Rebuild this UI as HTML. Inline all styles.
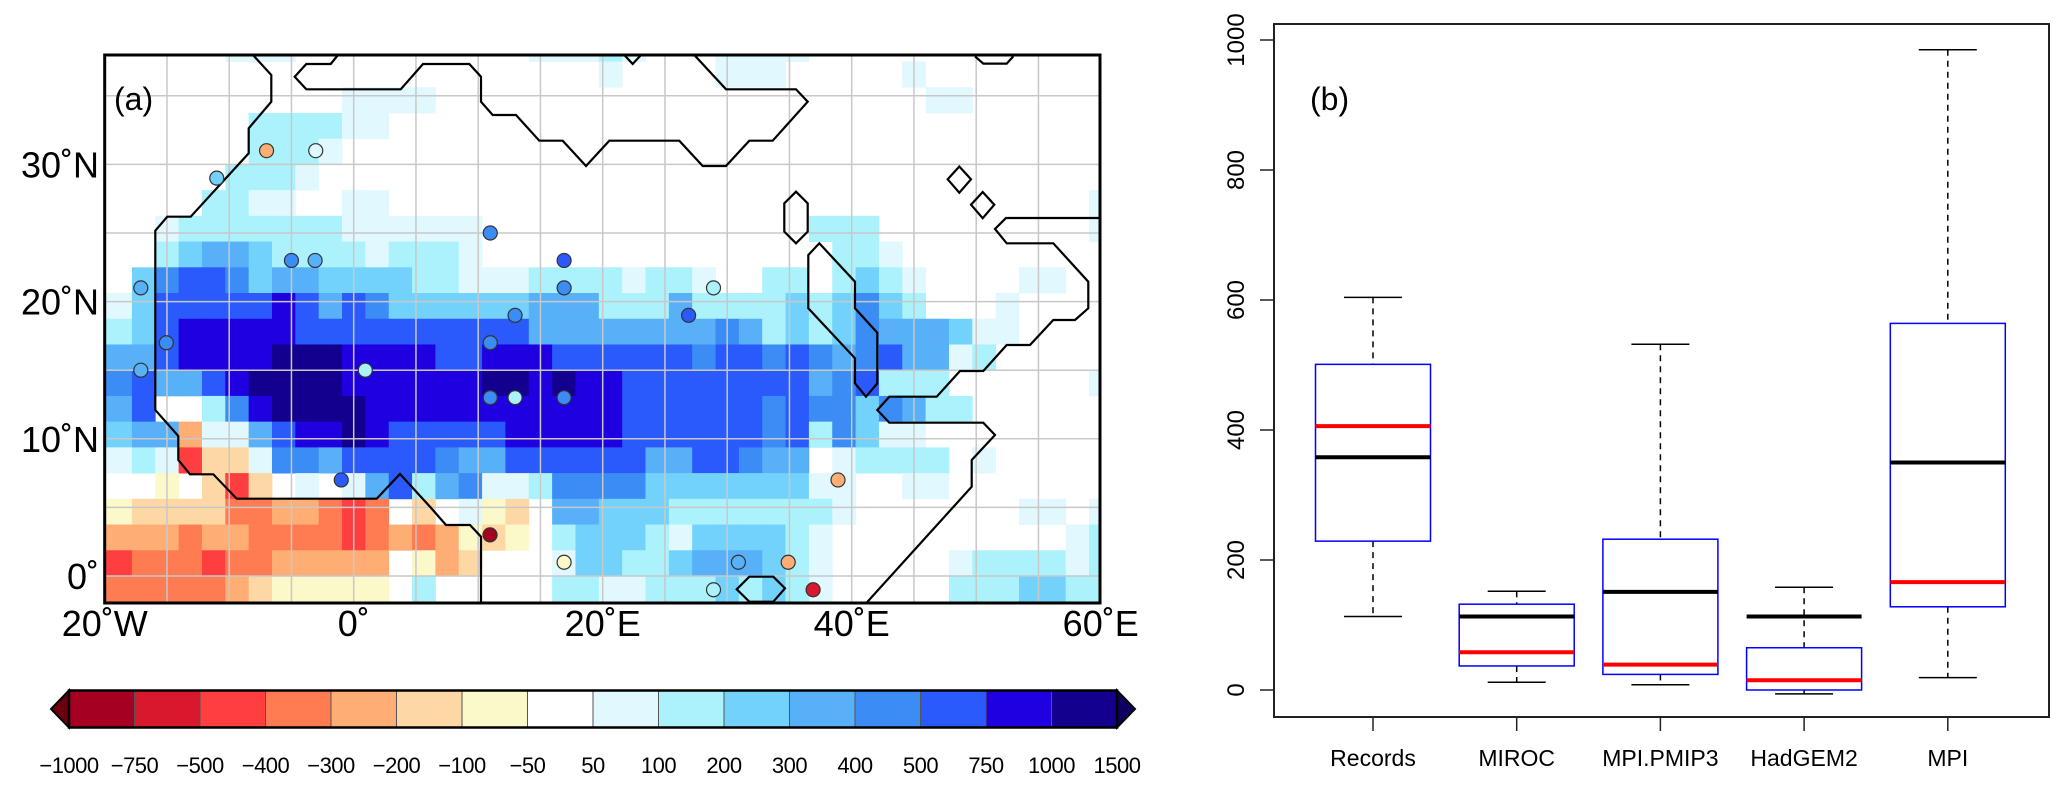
<!DOCTYPE html>
<html><head><meta charset="utf-8"><style>
html,body{margin:0;padding:0;background:#fff;}
svg{display:block;font-family:"Liberation Sans",sans-serif;}
</style></head><body>
<svg id="fig" width="2067" height="785" viewBox="0 0 2067 785" xmlns="http://www.w3.org/2000/svg">
<defs><clipPath id="mapclip"><rect x="104.7" y="55" width="995.3" height="548"/></clipPath></defs>
<g id="map">
  <g id="cells" clip-path="url(#mapclip)"></g>
  <g id="grid" clip-path="url(#mapclip)"></g>
  <g clip-path="url(#mapclip)" fill="none" stroke="#000" stroke-width="2.2" stroke-linejoin="miter">
    <polyline points="253,55 271.3,75 271.3,101.7 248.7,128.3 248.7,153.3 190.7,216.7 167.3,216.7 155.3,230.7 155.3,410 178.3,436 178.3,460 190,474.3 213.3,474.3 236.7,498.7 376.7,498.7 400,474 430,506.7 446,525 470,525 481,536.7 481,610"/>
    <polyline points="338,55 330.7,64 306.3,64 294.7,76.7 306.3,89.3 400.7,89.3 423,64 469.3,64 481,76.7 481,101.7 492.7,115 516,115 539.3,140.7 562.7,140.7 586,166 609.3,140.7 679.3,140.7 702.7,166 726,166 749.3,140.7 772.7,140.7 807.7,101.7 796,89.3 726,89.3 694.3,55"/>
    <polyline points="624.3,55 632.7,64 641,55"/>
    <polyline points="975,56.4 983.3,63.6 1006.7,63.6 1013.3,56.4"/>
    <polygon points="796,191.7 807.7,203.3 807.7,231.7 796,243.3 784.3,231.7 784.3,203.3"/>
    <polygon points="819.3,243.3 855,281.7 855,308.3 877.3,332.7 877.3,383.3 866,396.7 855,383.3 855,358.3 808.3,308.3 808.3,255"/>
    <polygon points="959.3,166.5 971,179.3 959.3,192.7 947.7,179.3"/>
    <polygon points="982.7,192 994.3,204.7 982.7,218.2 971,204.7"/>
    <polyline points="1105,218 1006,218 995,229 1006.7,243.3 1053.3,243.3 1088.3,281.7 1088.3,308.3 1075,320 1053.3,320 1030,345 1006.7,345 983.3,371 960,371 936.7,396.7 889.3,396.7 877.3,410 889.3,422.7 983.3,422.7 995,435 971.7,460 971.7,486.7 860,610"/>
    <polygon points="736.7,589.3 749.3,576.7 773.3,576.7 785,588.3 773.3,601.7 749.3,601.7"/>
  </g>
  <g id="stations"></g>
  <rect x="104.7" y="55" width="995.3" height="548" fill="none" stroke="#000" stroke-width="3"/>
  <text x="114" y="110" font-size="32">(a)</text>
  <g id="maplabels" font-size="36"></g>
</g>
<g id="colorbar"></g>
<g id="box">
  <rect x="1274" y="24" width="775" height="693" fill="none" stroke="#222" stroke-width="2"/>
  <text x="1310" y="110" font-size="32">(b)</text>
  <g id="boxaxes"></g>
  <g id="boxes"></g>
</g>
</svg>
<script>
const levelColors = ['#6b0010','#a50021','#d8182c','#ff3f3f','#ff7c52','#feae74','#fed8a4','#fbf8ca','#ffffff','#e0f8fe','#abf2fc','#72d2fb','#57b0f8','#3b8cf4','#2a5afc','#1f00e0','#13008e','#0d0060'];
const levelCodes = '0123456789abcdefgh';
const colorbarLabels = ['\u22121000','\u2212750','\u2212500','\u2212400','\u2212300','\u2212200','\u2212100','\u221250','50','100','200','300','400','500','750','1000','1500'];
const W = n => '8'.repeat(n);
const rowLatIndex = [20,19,18,17,16,15,14,13,12,11,10,9,8,7,6,5,4,3,2,1,0,-1];
const gridRows = [
'888888'+'999'+W(10)+'999'+'a'+'9'+'888'+'9999'+W(13),
W(22)+'9'+'8888'+'999'+'88888'+'9'+W(8),
W(11)+'9999'+W(21)+'99'+W(6),
W(7)+'aaaa'+'99'+W(31),
W(7)+'aaa'+'9'+W(33),
W(6)+'aaa'+'9'+W(34),
W(5)+'aa'+'99'+'88'+'99'+W(30)+'9',
'888'+'9'+'aaaaaaa'+'999999'+W(14)+'aaa'+W(9)+'9',
'888'+'abccb'+'aaaa'+'9'+'aa'+'a9'+W(13)+'88'+'aa9'+W(9),
'88bdeedbccbbbba'+'a999aaaa9aa988'+'aa8aba9'+'88889988',
'99beeeeefecedbb'+'bbbbcccaaacaaa'+'ababdba'+'88898888',
'aabefffffeeeeee'+'eeeeccccccccdc'+'ababdcc'+'cb998888',
'ccceffffgggffff'+'eefffeeeeeedee'+'dedcdec'+'c9a88888',
'ddeccefggggffff'+'ffggfgffeeeeee'+'eecdeaa'+'a8888889',
'cce88adfggggfff'+'ffffffffeeeeee'+'deddbdc'+'aa888888',
'bbcc599ceffgfee'+'eeefffffeeeeee'+'deadb99'+'88888888',
'99a93669ddceeee'+'dcceeeeeecceed'+'cc89aaa'+'a8988888',
'888786368989cea'+'cd99addddbbbbb'+'bb99889'+'98888888',
'776666445543486'+'89768ccbbbaaaa'+'aaa9888'+'88889989',
'555545544443454'+'57678abbba9bbb'+'ba98888'+'8888889a',
'334443445555587'+'568889bbaabccc'+'ba98888'+'89aaaa9a',
'44444456777778a'+'88888aa99aaaba'+'ba98888'+'8aaabbaa'
];
const stationLon = [-7.0,-3.05,-11.0,-5.0,-3.1,-17.1,-15.05,-17.1,0.93,10.97,16.9,16.9,28.9,12.96,26.9,10.97,10.97,12.96,16.9,-1.0,10.95,16.9,30.9,28.9,38.9,34.9,36.9];
const stationLat = [31.0,31.0,29.0,23.0,23.0,21.0,17.0,15.0,15.0,25.0,23.0,21.0,21.0,19.0,19.0,17.0,13.0,13.0,13.0,7.0,3.0,1.0,1.0,-1.0,7.0,1.0,-1.0];
const stationLevel = ['5','9','b','d','c','c','d','c','a','d','e','d','a','d','e','d','d','a','d','e','1','7','c','a','5','5','2'];
const lonTicks = [-20,0,20,40,60];
const lonTickLabels = ['20\u02daW','0\u02da','20\u02daE','40\u02daE','60\u02daE'];
const latTicks = [0,10,20,30];
const latTickLabels = ['0\u02da','10\u02daN','20\u02daN','30\u02daN'];

const boxCategories = ['Records','MIROC','MPI.PMIP3','HadGEM2','MPI'];
const whiskerLow = [113,12,8,-6,19];
const boxLow = [229,37,24,0,128];
const medianBlack = [358,113,151,113,350];
const meanRed = [406,58,39,15,166];
const boxHigh = [501,132,232,65,564];
const whiskerHigh = [604,152,532,158,985];
const yTicks = [0,200,400,600,800,1000];

const NS='http://www.w3.org/2000/svg';
function mk(tag, attrs, parent){const e=document.createElementNS(NS,tag);for(const k in attrs)e.setAttribute(k,attrs[k]);parent.appendChild(e);return e;}
const lonX = lon => 104.7 + (lon+20)*12.45;
const latY = lat => 576 - lat*13.72;

const cellsG=document.getElementById('cells');
gridRows.forEach((row,ri)=>{
  const j=rowLatIndex[ri];
  for(let c=0;c<44;c++){
    const code=row[c]||'8';
    const lvl=levelCodes.indexOf(code);
    if(lvl===8||lvl<0) continue;
    const lonC=(c-11)*1.875;
    const x0=lonX(lonC-0.9375), x1=lonX(lonC+0.9375);
    const yTop=latY((j+1)*1.875), yBot=(j===-1)?latY(-3.75):latY(j*1.875);
    const r=mk('rect',{x:x0.toFixed(2),y:yTop.toFixed(2),width:(x1-x0+0.4).toFixed(2),height:(yBot-yTop+0.4).toFixed(2),fill:levelColors[lvl]},cellsG);
    
    
  }
});
const gridG=document.getElementById('grid');
for(let lon=-15;lon<=55;lon+=5){const l=mk('line',{x1:lonX(lon),x2:lonX(lon),y1:55,y2:603,stroke:'#c8c8c8','stroke-width':1.5},gridG);

}
for(let lat=0;lat<=35;lat+=5){const l=mk('line',{x1:104.7,x2:1100,y1:latY(lat),y2:latY(lat),stroke:'#c8c8c8','stroke-width':1.5},gridG);

}
const stG=document.getElementById('stations');
stationLon.forEach((lon,i)=>{
  const c=mk('circle',{cx:lonX(lon),cy:latY(stationLat[i]),r:7,fill:levelColors[levelCodes.indexOf(stationLevel[i])],stroke:'#333','stroke-width':1.2},stG);
  
  
});
const mlG=document.getElementById('maplabels');
lonTicks.forEach((lon,i)=>{const t=mk('text',{x:lonX(lon),y:636,'text-anchor':'middle'},mlG);t.textContent=lonTickLabels[i];

});
latTicks.forEach((lat,i)=>{const t=mk('text',{x:99,y:latY(lat)+13,'text-anchor':'end'},mlG);t.textContent=latTickLabels[i];

});
const cbG=document.getElementById('colorbar');
const cbX0=69, cbW=65.5, cbY0=690.5, cbY1=727.5;
for(let k=1;k<=16;k++){const r=mk('rect',{x:cbX0+(k-1)*cbW,y:cbY0,width:cbW,height:cbY1-cbY0,fill:levelColors[k],stroke:'#555','stroke-width':1},cbG);

}
const tl=mk('polygon',{points:`${cbX0},${cbY0} ${cbX0-18},${(cbY0+cbY1)/2} ${cbX0},${cbY1}`,fill:levelColors[0],stroke:'#000','stroke-width':2},cbG);


const cbX1=cbX0+16*cbW;
const tr=mk('polygon',{points:`${cbX1},${cbY0} ${cbX1+18},${(cbY0+cbY1)/2} ${cbX1},${cbY1}`,fill:levelColors[17],stroke:'#000','stroke-width':2},cbG);


const fr=mk('rect',{x:cbX0,y:cbY0,width:16*cbW,height:cbY1-cbY0,fill:'none',stroke:'#000','stroke-width':2.5},cbG);


colorbarLabels.forEach((lab,k)=>{const t=mk('text',{x:cbX0+k*cbW,y:773,'text-anchor':'middle','font-size':22,'letter-spacing':'-0.5'},cbG);t.textContent=lab;

});

const vY = v => 690 - v*0.65;
const catX = i => 1373 + i*143.7;
const axG=document.getElementById('boxaxes');
yTicks.forEach(v=>{const l=mk('line',{x1:1260,x2:1274,y1:vY(v),y2:vY(v),stroke:'#222','stroke-width':1.5},axG);


const t=mk('text',{x:0,y:0,'text-anchor':'middle','font-size':24,transform:`translate(1244,${vY(v)}) rotate(-90)`},axG);t.textContent=String(v);

});
const bxG=document.getElementById('boxes');
boxCategories.forEach((cat,i)=>{
  const x=catX(i);
  const tk=mk('line',{x1:x,x2:x,y1:717,y2:731,stroke:'#222','stroke-width':1.5},axG);
  
  
  const t=mk('text',{x:x,y:766,'text-anchor':'middle','font-size':23},axG);t.textContent=cat;
  
  
  const g=mk('g',{},bxG);
  
  
  mk('line',{x1:x,x2:x,y1:vY(whiskerHigh[i]),y2:vY(boxHigh[i]),stroke:'#000','stroke-width':1.5,'stroke-dasharray':'6,5'},g);
  mk('line',{x1:x,x2:x,y1:vY(boxLow[i]),y2:vY(whiskerLow[i]),stroke:'#000','stroke-width':1.5,'stroke-dasharray':'6,5'},g);
  mk('line',{x1:x-29,x2:x+29,y1:vY(whiskerHigh[i]),y2:vY(whiskerHigh[i]),stroke:'#000','stroke-width':1.5},g);
  mk('line',{x1:x-29,x2:x+29,y1:vY(whiskerLow[i]),y2:vY(whiskerLow[i]),stroke:'#000','stroke-width':1.5},g);
  mk('rect',{x:x-57.5,y:vY(boxHigh[i]),width:115,height:vY(boxLow[i])-vY(boxHigh[i]),fill:'#fff',stroke:'#0000ff','stroke-width':1.5},g);
  mk('line',{x1:x-57.5,x2:x+57.5,y1:vY(medianBlack[i]),y2:vY(medianBlack[i]),stroke:'#000','stroke-width':4},g);
  mk('line',{x1:x-57.5,x2:x+57.5,y1:vY(meanRed[i]),y2:vY(meanRed[i]),stroke:'#ff0000','stroke-width':4},g);
});
</script>
</body></html>
